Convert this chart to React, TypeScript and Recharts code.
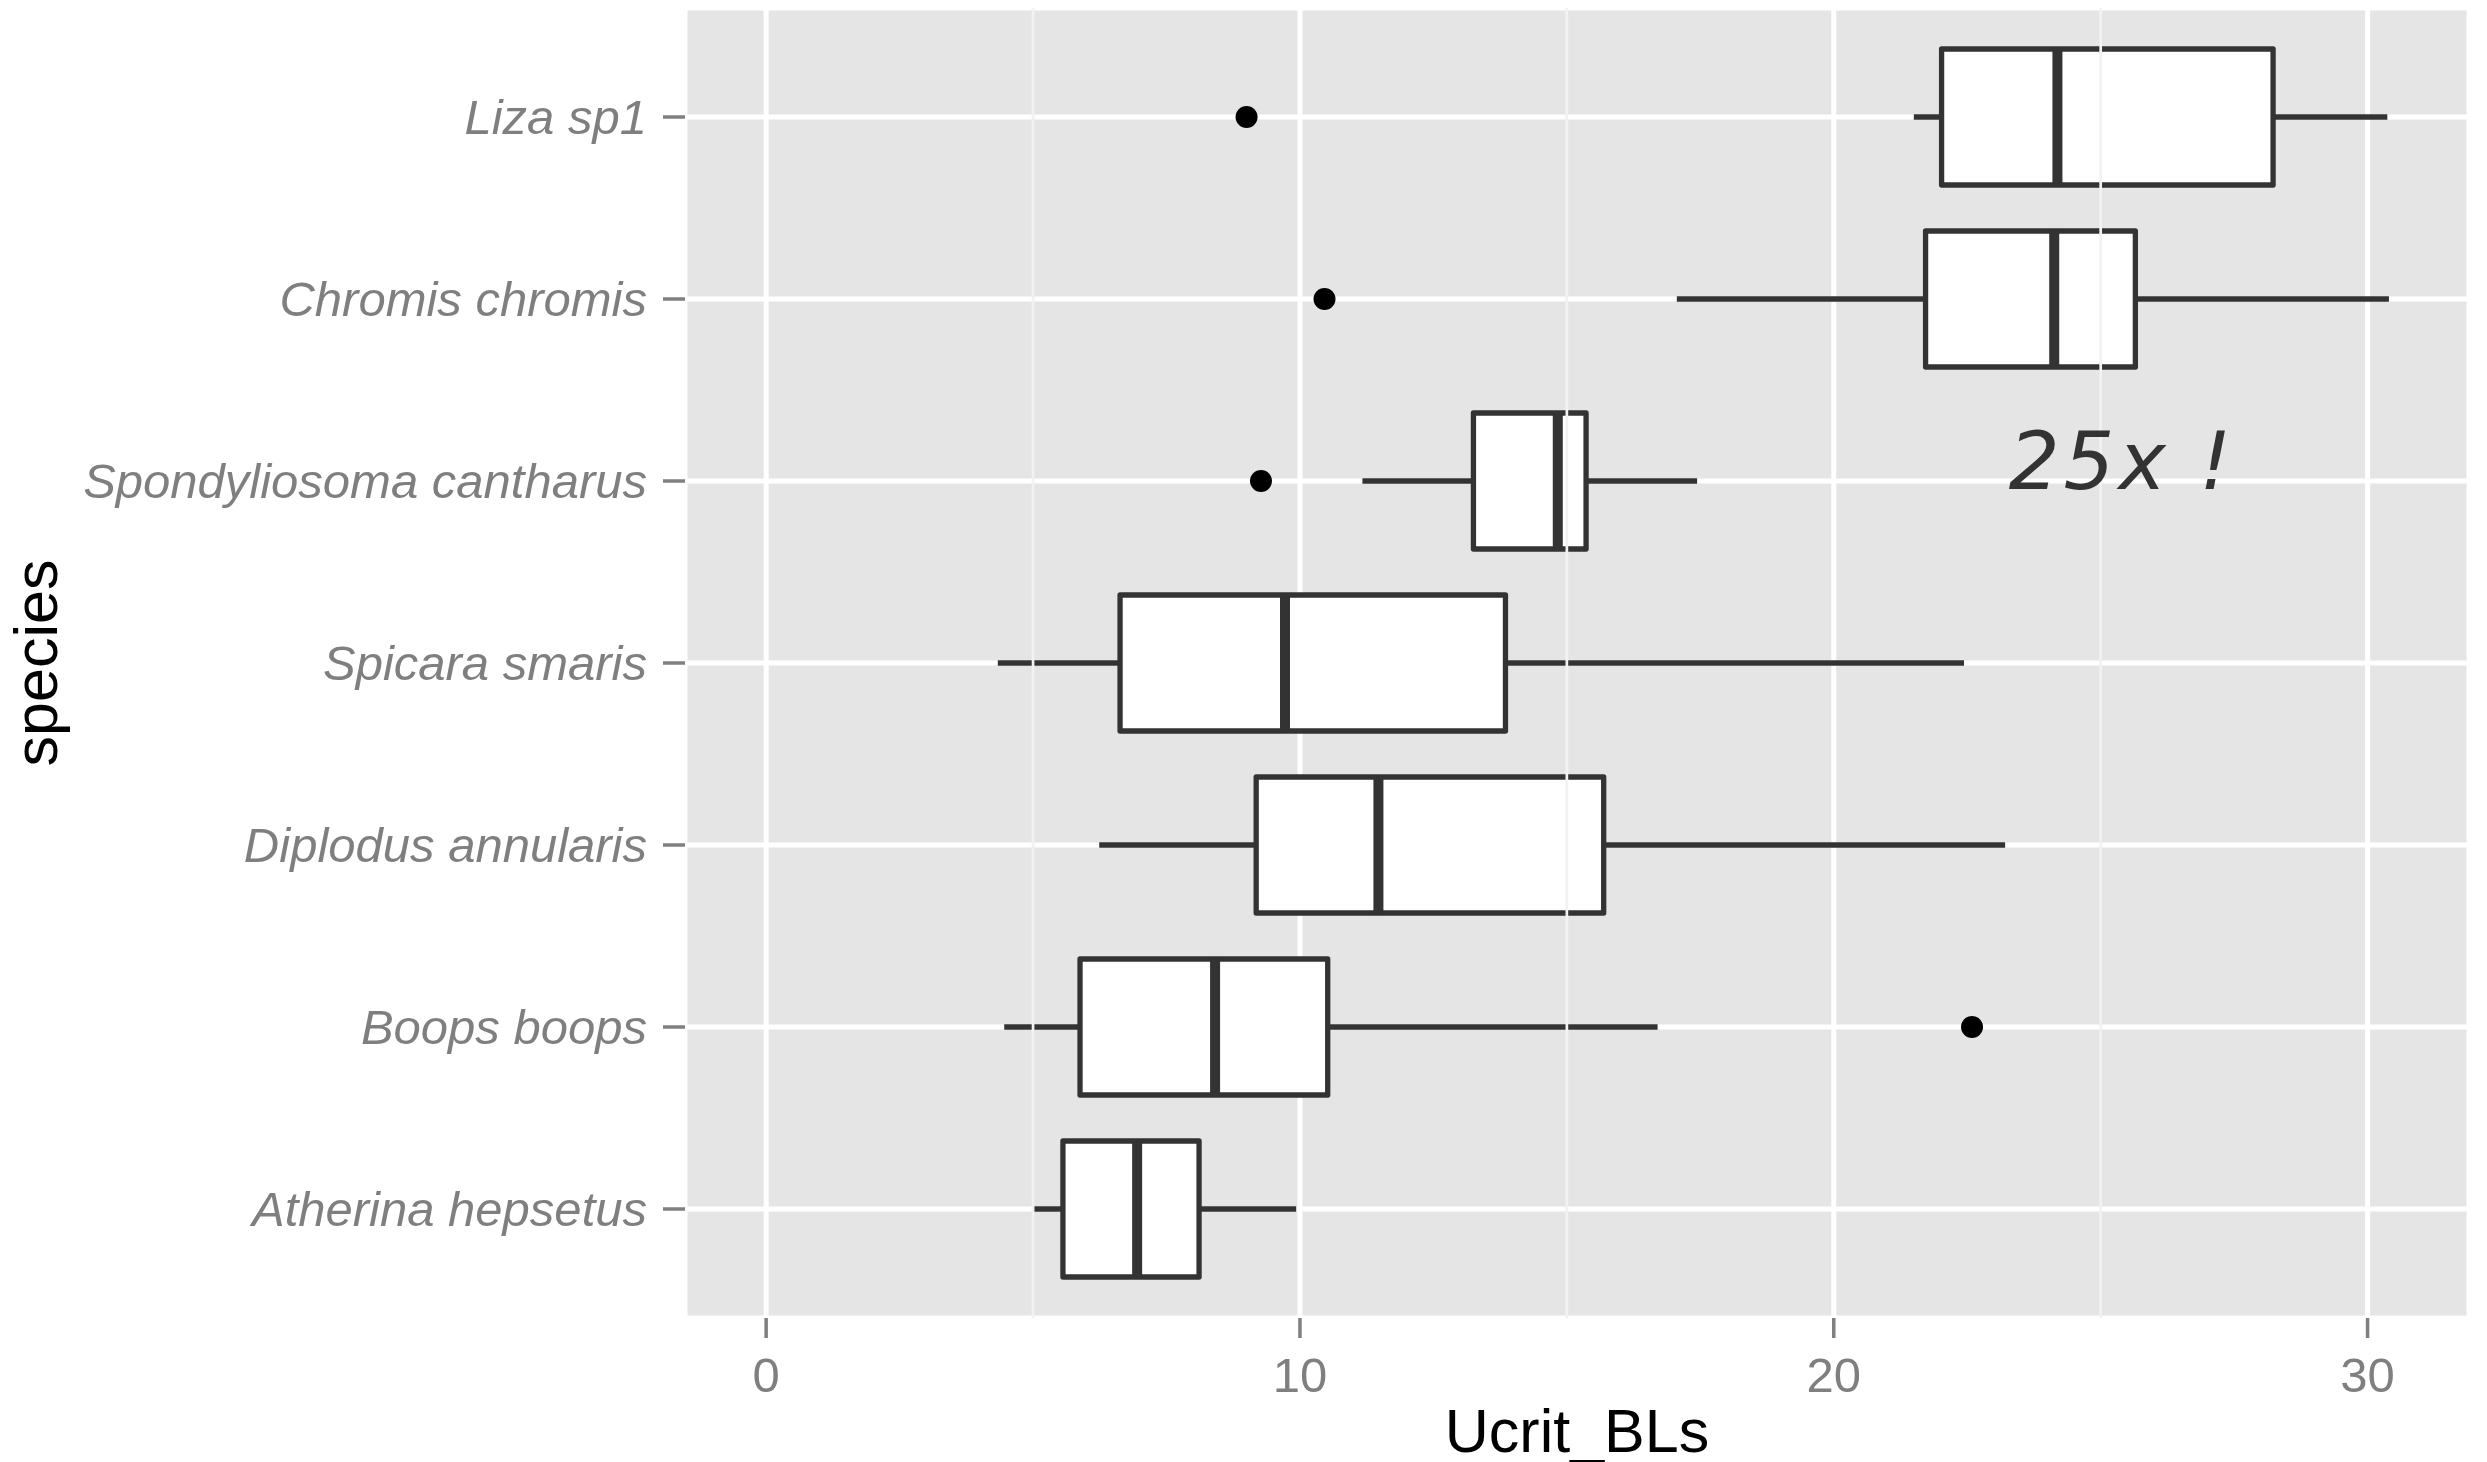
import React from 'react';
import {
  ComposedChart,
  Bar,
  XAxis,
  YAxis,
  CartesianGrid,
  ReferenceLine,
  ReferenceDot,
  Label,
} from 'recharts';

const FONT = '"Liberation Sans", Arial, Helvetica, sans-serif';

const species = [
  'Liza sp1',
  'Chromis chromis',
  'Spondyliosoma cantharus',
  'Spicara smaris',
  'Diplodus annularis',
  'Boops boops',
  'Atherina hepsetus',
];
const whiskerLow = [21.5, 17.06, 11.17, 4.34, 6.24, 4.46, 5.02];
const q1 = [22.02, 21.72, 13.25, 6.63, 9.18, 5.88, 5.56];
const median = [24.19, 24.13, 14.83, 9.72, 11.47, 8.41, 6.95];
const q3 = [28.23, 25.65, 15.36, 13.85, 15.69, 10.52, 8.11];
const whiskerHigh = [30.37, 30.4, 17.44, 22.44, 23.21, 16.7, 9.93];
const outliers: number[][] = [[9.0], [10.46], [9.27], [], [], [22.59], []];

const xTicks = [0, 10, 20, 30];
const xMinorTicks = [5, 15, 25];
const xDomain = [-1.52, 31.9];

const data = species.map((s, i) => ({
  species: s,
  range: [whiskerLow[i], whiskerHigh[i]],
  low: whiskerLow[i],
  high: whiskerHigh[i],
  q1: q1[i],
  median: median[i],
  q3: q3[i],
  outliers: outliers[i],
}));

const INK = '#333333';

const BoxShape = (props: any) => {
  const { x, y, width, height, index } = props;
  const p = props.payload;
  const d = p && p.q1 !== undefined ? p : data[index];
  const lo = d.low;
  const hi = d.high;
  const sx = (v: number) => x + ((v - lo) / (hi - lo)) * width;
  const cy = y + height / 2;
  return (
    <g>
      <line x1={sx(lo)} x2={sx(d.q1)} y1={cy} y2={cy} stroke={INK} strokeWidth={5.5} />
      <line x1={sx(d.q3)} x2={sx(hi)} y1={cy} y2={cy} stroke={INK} strokeWidth={5.5} />
      <rect
        x={sx(d.q1)}
        y={y}
        width={sx(d.q3) - sx(d.q1)}
        height={height}
        fill="#ffffff"
        stroke={INK}
        strokeWidth={5.3}
        strokeLinejoin="round"
      />
      <line x1={sx(d.median)} x2={sx(d.median)} y1={y} y2={y + height} stroke={INK} strokeWidth={10} />
      {d.outliers.map((o: number, k: number) => (
        <circle key={k} cx={sx(o)} cy={cy} r={11} fill="#000000" />
      ))}
    </g>
  );
};

const YTitle = (props: any) => {
  const vb = props.viewBox || {};
  const cy = (vb.y || 0) + (vb.height || 0) / 2;
  const bx = 57;
  return (
    <text
      x={bx}
      y={cy}
      transform={`rotate(-90 ${bx} ${cy})`}
      textAnchor="middle"
      fontFamily={FONT}
      fontSize={61}
      fill="#000000"
    >
      species
    </text>
  );
};

const XTitle = (props: any) => {
  const vb = props.viewBox || {};
  const cx = (vb.x || 0) + (vb.width || 0) / 2;
  const by = (vb.y || 0) + (vb.height || 0) - 10;
  return (
    <text x={cx} y={by} textAnchor="middle" fontFamily={FONT} fontSize={61} fill="#000000">
      Ucrit_BLs
    </text>
  );
};

const Note = (props: any) => {
  const vb = props.viewBox || {};
  const cx = vb.x !== undefined ? vb.x + (vb.width || 0) / 2 : 0;
  const cy = vb.y !== undefined ? vb.y + (vb.height || 0) / 2 : 0;
  return (
    <text
      x={cx}
      y={cy + 8}
      textAnchor="middle"
      fontFamily='"DejaVu Sans", sans-serif'
      fontStyle="italic"
      fontSize={80}
      letterSpacing={4}
      fill="#333333"
    >
      25x !
    </text>
  );
};

export default function App() {
  return (
    <div style={{ position: 'absolute', left: 0, top: 0, width: 2487, height: 1462, background: '#ffffff' }}>
      <ComposedChart
        width={2487}
        height={1462}
        layout="vertical"
        data={data}
        margin={{ top: 8, right: 18, bottom: 0, left: 0 }}
        barSize={136}
      >
        <CartesianGrid
          fill="#E5E5E5"
          fillOpacity={1}
          stroke="#ffffff"
          strokeWidth={5}
        />
        {xMinorTicks.map((t) => (
          <ReferenceLine key={t} x={t} stroke="#F2F2F2" strokeWidth={2.7} ifOverflow="hidden" />
        ))}
        <XAxis
          type="number"
          domain={xDomain}
          ticks={xTicks}
          allowDataOverflow
          height={144}
          axisLine={false}
          tickLine={{ stroke: '#7F7F7F', strokeWidth: 3.5 }}
          tickSize={20}
          tickMargin={19}
          tick={{ fill: '#7F7F7F', fontSize: 49, fontFamily: FONT }}
        >
          <Label content={<XTitle />} />
        </XAxis>
        <YAxis
          type="category"
          dataKey="species"
          width={685}
          padding={{ top: 18, bottom: 18 }}
          axisLine={false}
          tickLine={{ stroke: '#7F7F7F', strokeWidth: 3.5 }}
          tickSize={22}
          tickMargin={16}
          interval={0}
          tick={{ fill: '#7F7F7F', fontSize: 49, fontFamily: FONT, fontStyle: 'italic' }}
        >
          <Label content={<YTitle />} />
        </YAxis>
        <Bar dataKey="range" shape={<BoxShape />} isAnimationActive={false} />
        <ReferenceDot x={25.4} y="Spondyliosoma cantharus" r={0} ifOverflow="visible">
          <Label content={<Note />} />
        </ReferenceDot>
      </ComposedChart>
    </div>
  );
}
